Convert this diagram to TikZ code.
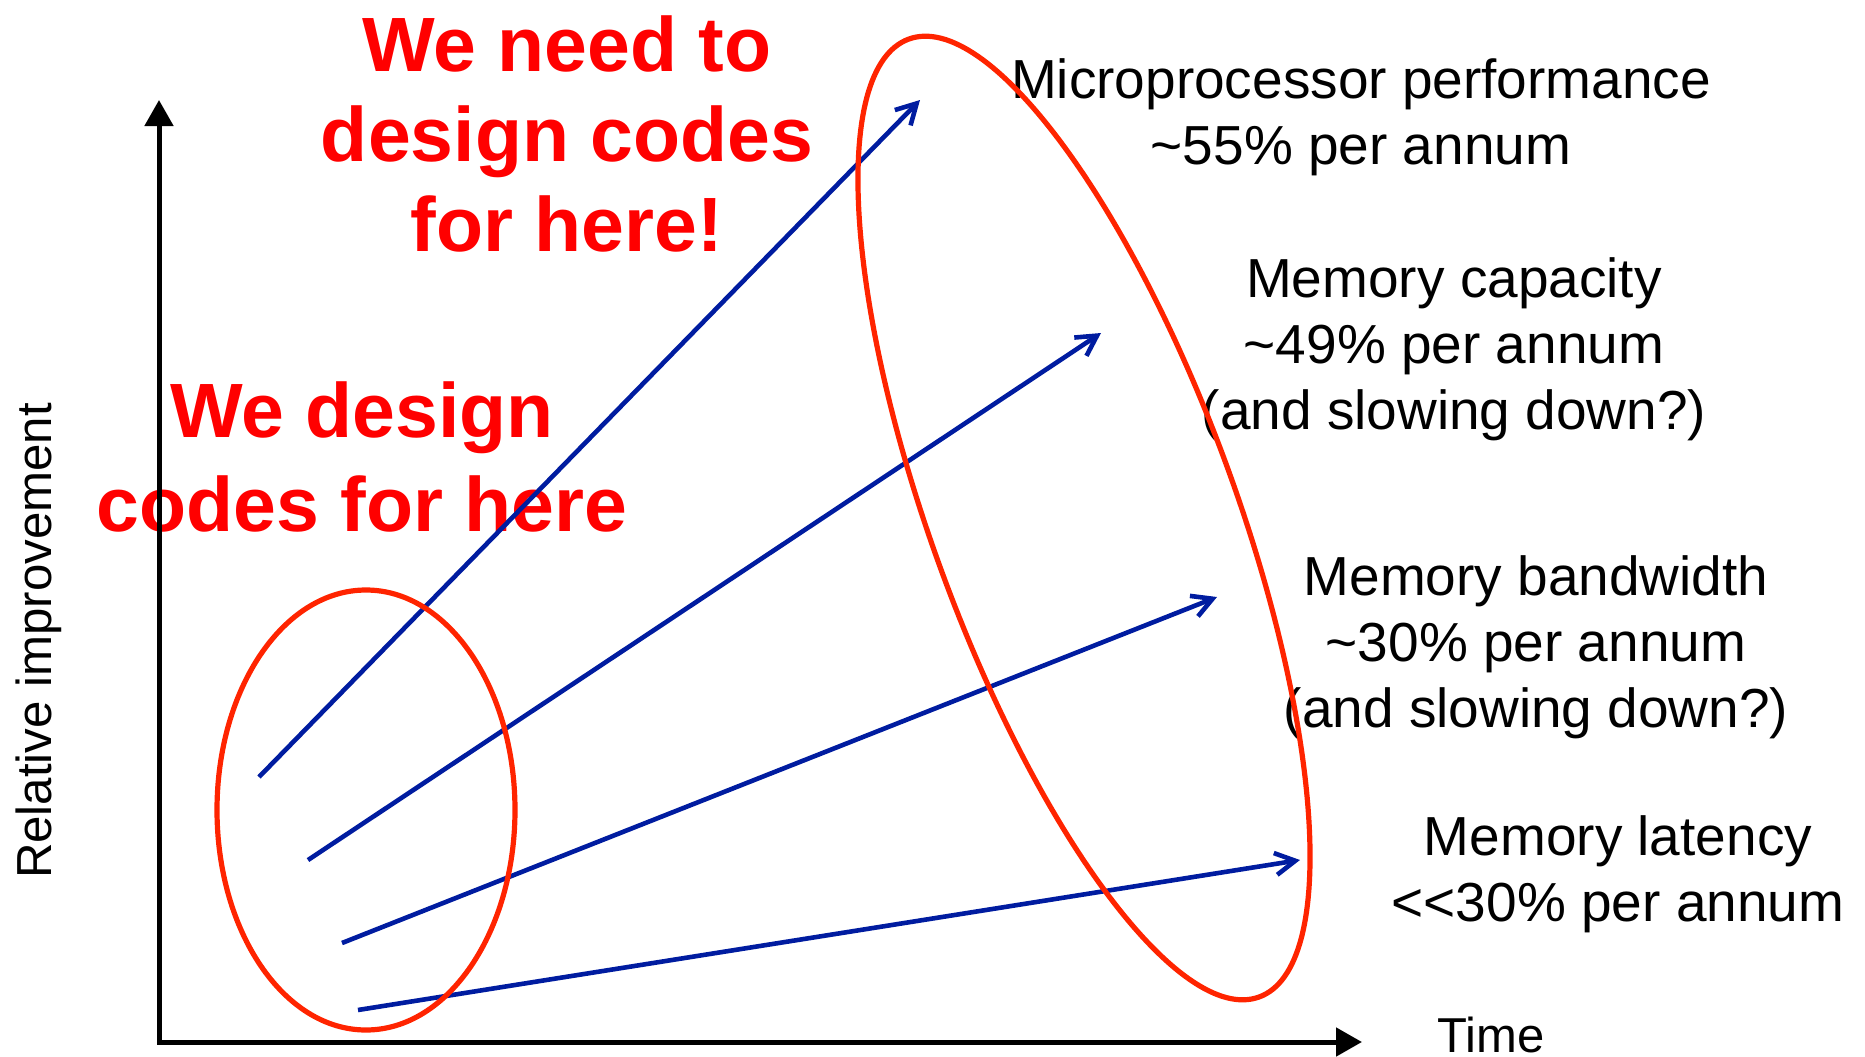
\documentclass[tikz,border=0pt]{standalone}
\usepackage{fontspec}
\setmainfont{Liberation Sans}
\usetikzlibrary{arrows.meta}

\definecolor{trendblue}{RGB}{0,28,160}
\definecolor{ringred}{RGB}{255,36,0}

\tikzset{
  axis/.style={line width=2.5pt,
    {Triangle[length=13pt,width=14pt]}-{Triangle[length=13pt,width=14pt]}},
  trend/.style={trendblue, line width=2.3pt, -{Straight Barb[length=10pt,width=11pt]}},
  ring/.style={ringred, line width=2.6pt},
  lbl/.style={align=center, font=\fontsize{27.5}{33}\selectfont},
  shout/.style={align=center, text=red, font=\bfseries\fontsize{38.5}{45}\selectfont},
}

\begin{document}
\begin{tikzpicture}[x=0.5pt, y=-0.5pt]
    \useasboundingbox (0,0) rectangle (1865,1056);
    % texts first, lines go over them
    \node[shout] (later) at (567,134) {We need to\\design codes\\for here!};
    \node[shout, font=\bfseries\fontsize{38.5}{47}\selectfont] (now) at (362,457) {We design\\codes for here};
    \node[lbl] (cpu) at (1361,117) {Microprocessor performance\\\textasciitilde55\% per annum};
    \node[lbl] (memcap) at (1454,349) {Memory capacity\\\textasciitilde49\% per annum\\(and slowing down?)};
    \node[lbl] (membw) at (1536,647) {Memory bandwidth\\\textasciitilde30\% per annum\\(and slowing down?)};
    \node[lbl] (memlat) at (1618,874) {Memory latency\\\textless{}\textless{}30\% per annum};
    \node[rotate=90, font=\fontsize{24.6}{29}\selectfont] (ylab) at (39,641) {Relative improvement};
    \node[font=\fontsize{24.5}{29}\selectfont] (tlab) at (1491,1035) {Time};

    % axes
    \coordinate (o) at (159,1042);
    \coordinate (ytop) at (159,100);
    \coordinate (xend) at (1362,1042);
    \draw[axis] (ytop) -- (o) -- (xend);

    % growth trends
    \coordinate (s1) at (259,777);  \coordinate (e1) at (920,100);
    \coordinate (s2) at (308,860);  \coordinate (e2) at (1101,333);
    \coordinate (s3) at (342,943);  \coordinate (e3) at (1217,597);
    \coordinate (s4) at (358,1010); \coordinate (e4) at (1300,860);
    \foreach \i in {1,...,4}{
        \draw[trend] (s\i) -- (e\i);
    }

    % rings round start and end
    \draw[ring] (366,810) ellipse [x radius=74.5pt, y radius=110pt];
    \draw[ring, rotate around={-69.9:(1084,518)}] (1084,518) ellipse [x radius=255pt, y radius=76pt];
\end{tikzpicture}
\end{document}
